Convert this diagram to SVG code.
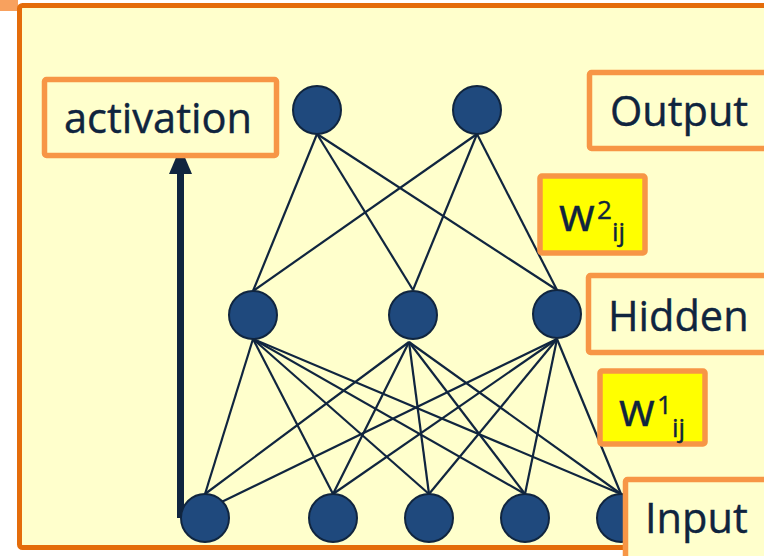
<svg xmlns="http://www.w3.org/2000/svg" width="764" height="556" viewBox="0 0 764 556">
<style>
.lbl{fill:#ffffcc;stroke:#f79646;stroke-width:5.5}
.wbox{fill:#ffff00;stroke:#f79646;stroke-width:5.5}
.txt{font-family:"Open Sans","Noto Sans",sans-serif;fill:#0f243e;stroke:#0f243e;stroke-width:0.4}
.node{fill:#1f497d;stroke:#10253f;stroke-width:2}
.edge{stroke:#10253f;stroke-width:2.2;fill:none}
</style>
<rect width="764" height="556" fill="#ffffff"/>
<rect x="0" y="0" width="18" height="11" fill="#f8a15e"/>
<rect id="frame" x="19.5" y="5.5" width="800" height="542" rx="3" fill="#ffffcc" stroke="#e46c0a" stroke-width="5"/>
<g id="connectors">
  <g class="edge">
    <line x1="317" y1="134" x2="253" y2="291"/>
    <line x1="317" y1="134" x2="413" y2="290"/>
    <line x1="317" y1="134" x2="557" y2="290"/>
    <line x1="477" y1="134" x2="253" y2="291"/>
    <line x1="477" y1="134" x2="413" y2="290"/>
    <line x1="477" y1="134" x2="557" y2="290"/>
    <line x1="253" y1="339" x2="205" y2="494"/>
    <line x1="253" y1="339" x2="333" y2="494"/>
    <line x1="253" y1="339" x2="429" y2="494"/>
    <line x1="253" y1="339" x2="525" y2="494"/>
    <line x1="253" y1="339" x2="621" y2="494"/>
    <line x1="409" y1="342" x2="205" y2="494"/>
    <line x1="409" y1="342" x2="333" y2="494"/>
    <line x1="409" y1="342" x2="429" y2="494"/>
    <line x1="409" y1="342" x2="525" y2="494"/>
    <line x1="409" y1="342" x2="621" y2="494"/>
    <line x1="557" y1="339" x2="205" y2="510"/>
    <line x1="557" y1="339" x2="333" y2="494"/>
    <line x1="557" y1="339" x2="429" y2="494"/>
    <line x1="557" y1="339" x2="525" y2="494"/>
    <line x1="557" y1="339" x2="621" y2="494"/>
  </g>
  <g id="activation-arrow">
    <line x1="180.5" y1="518" x2="180.5" y2="170" stroke="#10253f" stroke-width="7"/>
    <polygon points="180.5,147 192,174 169,174" fill="#10253f"/>
  </g>
</g>
<g id="output-nodes">
  <circle id="o1" class="node" cx="317" cy="110" r="24"/>
  <circle id="o2" class="node" cx="477" cy="110" r="24"/>
</g>
<g id="hidden-nodes">
  <circle id="h1" class="node" cx="253" cy="315" r="24"/>
  <circle id="h2" class="node" cx="413" cy="315" r="24"/>
  <circle id="h3" class="node" cx="557" cy="314" r="24"/>
</g>
<g id="input-nodes">
  <circle id="i1" class="node" cx="205" cy="518" r="24"/>
  <circle id="i2" class="node" cx="333" cy="518" r="24"/>
  <circle id="i3" class="node" cx="429" cy="518" r="24"/>
  <circle id="i4" class="node" cx="525" cy="518" r="24"/>
  <circle id="i5" class="node" cx="621" cy="518" r="24"/>
</g>
<g id="activation">
  <rect class="lbl" x="44.5" y="79.5" width="232" height="76" rx="2"/>
  <text class="txt" x="64" y="133" font-size="41.5" textLength="188" lengthAdjust="spacingAndGlyphs">activation</text>
</g>
<g id="output">
  <rect class="lbl" x="589.5" y="72.5" width="200" height="76" rx="2"/>
  <text class="txt" x="610" y="126" font-size="41.5">Output</text>
</g>
<g id="hidden">
  <rect class="lbl" x="588.5" y="275.5" width="200" height="77" rx="2"/>
  <text class="txt" x="608" y="331" font-size="41.5">Hidden</text>
</g>
<g id="input">
  <rect class="lbl" x="625.5" y="479.5" width="200" height="90" rx="2"/>
  <text class="txt" x="645" y="533" font-size="41.5">Input</text>
</g>
<g id="w2">
  <rect class="wbox" x="540" y="176" width="105" height="77" rx="2"/>
  <text class="txt" x="559" y="231" font-size="46">w</text>
  <text class="txt" x="597" y="219" font-size="26">2</text>
  <text class="txt" x="612" y="241" font-size="26">ij</text>
</g>
<g id="w1">
  <rect class="wbox" x="600" y="371" width="105" height="73" rx="2"/>
  <text class="txt" x="619" y="426" font-size="46">w</text>
  <text class="txt" x="657" y="414" font-size="26">1</text>
  <text class="txt" x="672" y="437" font-size="26">ij</text>
</g>
</svg>
